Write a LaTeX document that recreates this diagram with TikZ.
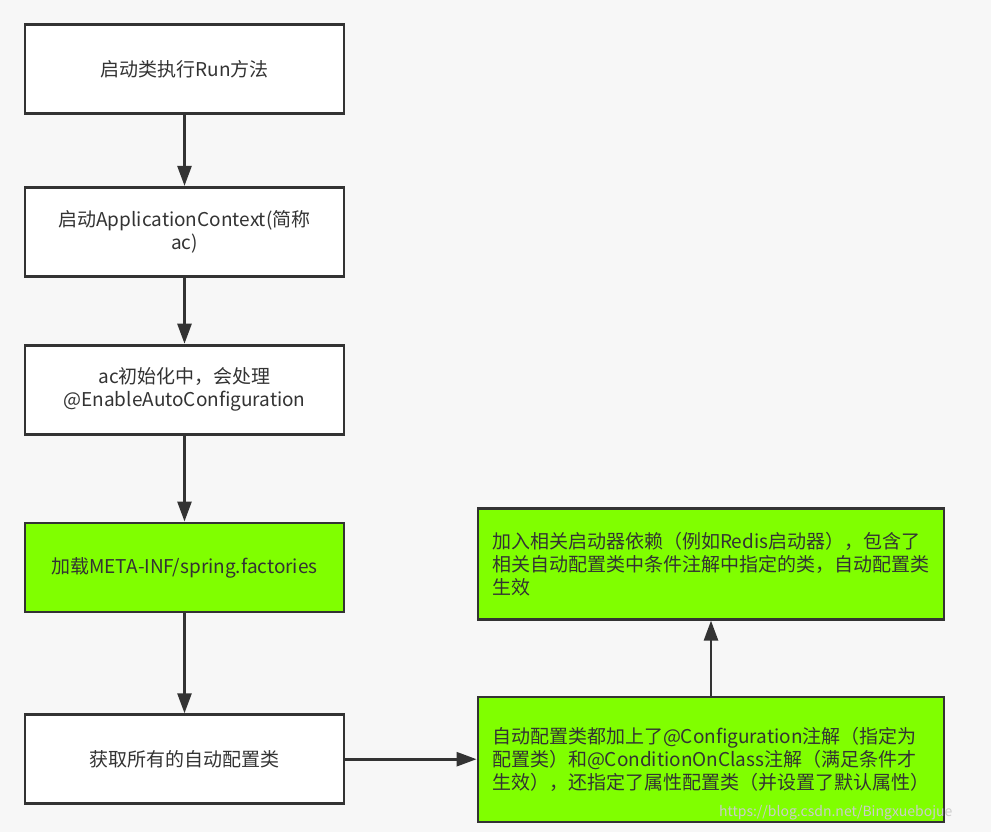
\documentclass[tikz,border=0pt]{standalone}
\usepackage{fontspec}
\setmainfont{Noto Sans CJK SC}
\usetikzlibrary{positioning, arrows.meta, calc}
\definecolor{lime}{HTML}{80FF00}
\definecolor{ink}{HTML}{333333}
\definecolor{paper}{HTML}{F7F7F7}
\tikzset{
  arr/.style={-{Triangle[length=20pt,width=14pt]}, line width=2.6pt, draw=ink},
  blk/.style={draw=ink, line width=2.8pt, fill=white, text=ink, align=center,
    minimum width=319pt, minimum height=89pt, text width=310pt, inner sep=0pt},
  gblk/.style={draw=ink, line width=2.8pt, fill=lime, text=ink, align=left,
    minimum width=466pt, text width=438pt, inner sep=0pt}
}
\begin{document}
\begin{tikzpicture}[x=1pt, y=-1pt, font=\fontsize{19}{23}\selectfont]
\fill[paper] (0,0) rectangle (991,832);
\useasboundingbox (0,0) rectangle (991,832);
\node[blk] (run) at (184.5,69) {启动类执行Run方法};
\node[blk, below=71pt of run] (ac) {启动ApplicationContext(简称\\ac)};
\node[blk, below=66pt of ac] (init) {ac初始化中，会处理\\@EnableAutoConfiguration};
\node[blk, fill=lime, below=86pt of init] (load) {加载META-INF/spring.factories};
\node[blk, below=100pt of load] (get) {获取所有的自动配置类};
\node[gblk, minimum height=125pt] (cfg) at (711,759.5)
  {自动配置类都加上了@Configuration注解（指定为\\配置类）和@ConditionOnClass注解（满足条件才\\生效），还指定了属性配置类（并设置了默认属性）};
\node[gblk, minimum height=111pt, above=75pt of cfg] (dep)
  {加入相关启动器依赖（例如Redis启动器），包含了\\相关自动配置类中条件注解中指定的类，自动配置类\\生效};
\draw[arr] (run) -- (ac);
\draw[arr] (ac) -- (init);
\draw[arr] (init) -- (load);
\draw[arr] (load) -- (get);
\draw[arr] (get.east) -- (get.east -| cfg.west);
\draw[arr] (cfg) -- (dep);
\node[font=\fontsize{14}{16}\selectfont, text=white!80!black, anchor=east] (wm)
  at (956,813) {https://blog.csdn.net/Bingxuebojue};
\end{tikzpicture}
\end{document}
